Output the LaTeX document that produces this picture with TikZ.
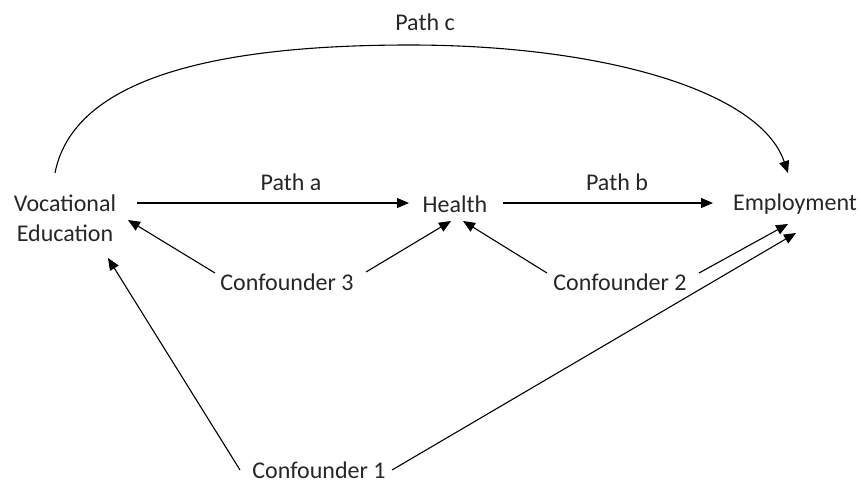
\documentclass[tikz,border=0pt]{standalone}
\usepackage{fontspec}
\setmainfont{Carlito}
\usepackage{tikz}
\usetikzlibrary{arrows.meta,positioning}

\begin{document}
\begin{tikzpicture}[x=1pt,y=-1pt]
	\tikzset{var/.style={inner sep=0pt,font=\fontsize{24}{30}\selectfont,align=center,text=black!85}}
	\tikzset{lbl/.style={inner sep=0pt,font=\fontsize{24}{30}\selectfont,text=black!85}}
	\tikzset{>={Triangle[length=12pt,width=10pt]},every path/.append style={line width=1.1pt}}
	\useasboundingbox (0,0) rectangle (861,483);

	%% variables
	\node[var] (voc) at (65,218) {Vocational\\Education};
	\node[var] (health) at (455,204) {Health};
	\node[var] (emp) at (795,204) {Employment};
	\node[var] (c3) at (287,282) {Confounder 3};
	\node[var] (c2) at (620,282) {Confounder 2};
	\node[var] (c1) at (319,470) {Confounder 1};

	%% path labels
	\node[lbl] (pa) at (291,182) {Path a};
	\node[lbl] (pb) at (617,182) {Path b};
	\node[lbl] (pc) at (425,22) {Path c};

	%% main paths
	\path[->]
		([shift={(72,-15)}]voc.center) edge ([shift={(-46,-1)}]health.center)
		([shift={(48,-1)}]health.center) edge ([shift={(-82,-1)}]emp.center);
	\draw[->] ([shift={(-10,-45)}]voc.center) .. controls (75,70) and (240,45) .. (410,45)
		.. controls (600,45) and (760,90) .. ([shift={(-7,-31)}]emp.center);

	%% confounders
	\path[->]
		([shift={(-72,-9)}]c3.center) edge ([shift={(63,2)}]voc.center)
		([shift={(79,-10)}]c3.center) edge ([shift={(-4,17)}]health.center)
		([shift={(-73,-9)}]c2.center) edge ([shift={(8,17)}]health.center)
		([shift={(79,-9)}]c2.center) edge ([shift={(-7,20)}]emp.center)
		([shift={(-79,0)}]c1.center) edge ([shift={(43,40)}]voc.center)
		([shift={(73,0)}]c1.center) edge ([shift={(1,29)}]emp.center);
\end{tikzpicture}
\end{document}
